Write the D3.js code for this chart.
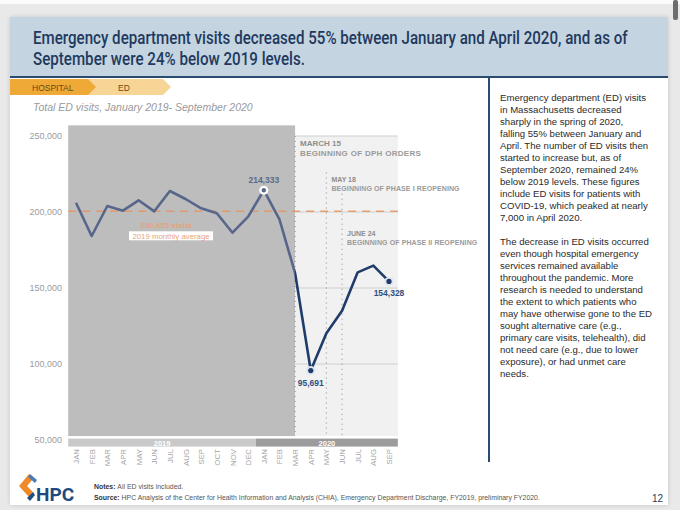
<!DOCTYPE html>
<html><head><meta charset="utf-8">
<script src="https://cdn.jsdelivr.net/npm/d3@7"></script>
<style>
html,body{margin:0;padding:0;background:#e9e9ea;}
svg{display:block;font-family:"Liberation Sans",Arial,sans-serif;}
</style></head><body>
<svg id="c" width="680" height="510"></svg>
<script>
// ---- data ----
const months = ["JAN","FEB","MAR","APR","MAY","JUN","JUL","AUG","SEP","OCT","NOV","DEC",
                "JAN","FEB","MAR","APR","MAY","JUN","JUL","AUG","SEP"];
const visits = [206100,184200,203950,200860,207700,200440,213800,208550,202430,199140,186380,196900,
                214333,195200,159700,95691,120200,135100,160300,164700,154328];
const yTicks = [50000,100000,150000,200000,250000];
const years = ["2019","2020"];
const yearStart = [0,12];
const yearEnd = [11,20];
const avg2019 = 200455;
const avgLabel = ["200,455 visits","2019 monthly average"];
const eventIdx = [14,16,17];
const eventDate = ["MARCH 15","MAY 18","JUNE 24"];
const eventText = ["BEGINNING OF DPH ORDERS","BEGINNING OF PHASE I REOPENING","BEGINNING OF PHASE II REOPENING"];
const callouts = [12,15,20];
const titleLines = ["Emergency department visits decreased 55% between January and April 2020, and as of",
                    "September were 24% below 2019 levels."];
const para1 = ["Emergency department (ED) visits","in Massachusetts decreased","sharply in the spring of 2020,",
  "falling 55% between January and","April. The number of ED visits then","started to increase but, as of",
  "September 2020, remained 24%","below 2019 levels. These figures","include ED visits for patients with",
  "COVID-19, which peaked at nearly","7,000 in April 2020."];
const para2 = ["The decrease in ED visits occurred","even though hospital emergency","services remained available",
  "throughout the pandemic. More","research is needed to understand","the extent to which patients who",
  "may have otherwise gone to the ED","sought alternative care (e.g.,","primary care visits, telehealth), did",
  "not need care (e.g., due to lower","exposure), or had unmet care","needs."];

const svg = d3.select("#c");
const navy = "#1f3a5e";

// page chrome
svg.append("rect").attr("x",0).attr("y",0).attr("width",680).attr("height",4).attr("fill","#fbfbfb");
svg.append("rect").attr("x",673).attr("y",0).attr("width",5).attr("height",20).attr("rx",2).attr("fill","#6d6d6d");
svg.append("rect").attr("x",10).attr("y",17).attr("width",658).attr("height",488).attr("fill","#fff")
   .style("filter","drop-shadow(0 0 2px rgba(0,0,0,0.15))");
svg.append("rect").attr("x",10).attr("y",17).attr("width",658).attr("height",60).attr("fill","#c4d4e0");
svg.append("rect").attr("x",10).attr("y",76).attr("width",658).attr("height",2).attr("fill","#2a4a6e");

// title (condensed by horizontal scaling to fit reference width)
const tw = [595,272];
titleLines.forEach((t,i)=>{
  const g = svg.append("g").attr("transform",`translate(33,${44+i*21})`);
  const tx = g.append("text").attr("x",0).attr("y",0).attr("font-family","Roboto, sans-serif")
    .attr("font-weight",500).attr("font-size",17.5).attr("fill",navy).text(t);
  const w = tx.node().getComputedTextLength();
  tx.attr("transform",`scale(${tw[i]/w},1)`);
});

// tabs
svg.append("polygon").attr("points","88,79 163,79 171,87 163,95 88,95").attr("fill","#f7d596");
svg.append("polygon").attr("points","10,79 88,79 96,87 88,95 10,95").attr("fill","#eea936");
svg.append("text").attr("x",32).attr("y",90.5).attr("font-size",8.5).attr("fill","#6a4a1a").text("HOSPITAL");
svg.append("text").attr("x",118).attr("y",90.5).attr("font-size",8.5).attr("fill","#6a4a1a").text("ED");
svg.append("text").attr("x",33).attr("y",111).attr("font-size",10.5).attr("font-style","italic")
   .attr("fill","#9a9a9a").text("Total ED visits, January 2019- September 2020");

// divider
svg.append("rect").attr("x",488).attr("y",78).attr("width",2).attr("height",384).attr("fill","#2a4a6e");

// scales
const x = d3.scaleLinear().domain([0,months.length-1]).range([76,389]);
const step = x(1)-x(0);
const y = d3.scaleLinear().domain([50000,250000]).range([440,136]);
const left = x(0)-step/2, right = x(20)+step/2+1;
const bottom = y(52600);

// shaded regions
svg.append("rect").attr("x",left).attr("y",y(257000)).attr("width",x(14)-left)
   .attr("height",bottom-y(257000)).attr("fill","#bdbdbd");
svg.append("rect").attr("x",x(14)).attr("y",y(250000)).attr("width",right-x(14))
   .attr("height",bottom-y(250000)).attr("fill","#f1f1f1");
// gridlines in light region
svg.append("g").selectAll("line").data(yTicks.filter(d=>d>50000)).join("line")
  .attr("x1",x(14)).attr("x2",right).attr("y1",d=>y(d)).attr("y2",d=>y(d))
  .attr("stroke","#cfcfcf").attr("stroke-width",1);

// y axis
const yAxis = svg.append("g").attr("transform",`translate(${62},0)`)
  .call(d3.axisLeft(y).tickValues(yTicks).tickSize(0).tickPadding(0).tickFormat(d3.format(",")));
yAxis.select(".domain").remove();
yAxis.selectAll("text").attr("font-size",9).attr("fill","#9b9b9b")
   .attr("font-family","Liberation Sans, Arial, sans-serif");

// year bar
const yb = y(48300);
years.forEach((yr,i)=>{
  const x0 = x(yearStart[i])-step/2, x1 = i===1? right : x(yearEnd[i])+step/2;
  svg.append("rect").attr("x",x0).attr("y",yb-4).attr("width",x1-x0).attr("height",8)
     .attr("fill", i===0? "#c9c9c9":"#9c9c9c");
  svg.append("text").attr("x",(x0+x1)/2).attr("y",yb+3).attr("text-anchor","middle")
     .attr("font-size",7.5).attr("font-weight","bold").attr("fill","#fff").text(yr);
});

// month labels
svg.append("g").selectAll("text").data(months).join("text")
  .attr("transform",(d,i)=>`translate(${x(i)+3},449) rotate(-90)`)
  .attr("text-anchor","end").attr("font-size",7.8).attr("fill","#a5a5a5").text(d=>d);

// event lines
eventIdx.forEach((ix,i)=>{
  const top = [y(250000), y(226000), y(212000)][i];
  svg.append("line").attr("x1",x(ix)).attr("x2",x(ix)).attr("y1",top).attr("y2",bottom)
    .attr("stroke","#9a9a9a").attr("stroke-width",1.2).attr("stroke-dasharray","1,4");
  const ty = [y(243500), y(220000), y(184000)][i];
  const fs = i===0? 8 : 7;
  svg.append("text").attr("x",x(ix)+5).attr("y",ty).attr("font-size",fs).attr("font-weight","bold")
    .attr("fill","#8d8d8d").text(eventDate[i]);
  svg.append("text").attr("x",x(ix)+5).attr("y",ty+(i===0?10:9)).attr("font-size",fs)
    .attr("font-weight","bold").attr("fill","#9a9a9a").attr("letter-spacing",i===0?0.3:0.1).text(eventText[i]);
});

// average dashed line
svg.append("line").attr("x1",left).attr("x2",right).attr("y1",y(avg2019)).attr("y2",y(avg2019))
   .attr("stroke","#e8935e").attr("stroke-width",1.6).attr("stroke-dasharray","8,6").attr("opacity",0.85);
svg.append("text").attr("x",166).attr("y",y(avg2019)+16.5).attr("text-anchor","middle")
   .attr("font-size",8).attr("font-weight","bold").attr("fill","#e3a47c").text(avgLabel[0]);
svg.append("rect").attr("x",129).attr("y",y(avg2019)+20).attr("width",84).attr("height",9).attr("fill","#fff");
svg.append("text").attr("x",171).attr("y",y(avg2019)+27.3).attr("text-anchor","middle")
   .attr("font-size",7.8).attr("fill","#e8a47a").text(avgLabel[1]);

// clip paths
const defs = svg.append("defs");
defs.append("clipPath").attr("id","cl").append("rect").attr("x",0).attr("y",0).attr("width",x(14)).attr("height",510);
defs.append("clipPath").attr("id","cr").append("rect").attr("x",x(14)).attr("y",0).attr("width",300).attr("height",510);

const line = d3.line().x((d,i)=>x(i)).y(d=>y(d));
svg.append("path").datum(visits).attr("d",line).attr("fill","none").attr("stroke","#57668a")
   .attr("stroke-width",2.6).attr("stroke-linejoin","round").attr("clip-path","url(#cl)");
svg.append("path").datum(visits).attr("d",line).attr("fill","none").attr("stroke","#1f3c6a")
   .attr("stroke-width",2.6).attr("stroke-linejoin","round").attr("clip-path","url(#cr)");

// markers & labels
const fmt = d3.format(",");
callouts.forEach((ix,k)=>{
  const cx = x(ix), cy = y(visits[ix]);
  if(k===0){
    svg.append("circle").attr("cx",cx).attr("cy",cy).attr("r",4.5).attr("fill","#fff");
    svg.append("circle").attr("cx",cx).attr("cy",cy).attr("r",2.2).attr("fill","#57668a");
    svg.append("text").attr("x",cx).attr("y",cy-7).attr("text-anchor","middle").attr("font-size",8.5)
      .attr("font-weight","bold").attr("fill","#5b6a8c").text(fmt(visits[ix]));
  } else {
    svg.append("circle").attr("cx",cx).attr("cy",cy).attr("r",4.5).attr("fill","#dfe4ee");
    svg.append("circle").attr("cx",cx).attr("cy",cy).attr("r",2.6).attr("fill","#1f3c6a");
    svg.append("text").attr("x",cx).attr("y",cy+15).attr("text-anchor","middle").attr("font-size",8.5)
      .attr("font-weight","bold").attr("fill","#2f4f7f").text(fmt(visits[ix]));
  }
});

// right text
const rt = svg.append("g").attr("font-size",9.6).attr("fill","#2b2b2b");
para1.forEach((t,i)=>rt.append("text").attr("x",500).attr("y",100.5+i*12.05).text(t));
para2.forEach((t,i)=>rt.append("text").attr("x",500).attr("y",244.5+i*12.05).text(t));

// footer logo
svg.append("polygon").attr("points","29,474 19,486 29,497 33,492 27,486 33,479").attr("fill","#ef8a2a");
svg.append("polygon").attr("points","30,474 37,480 35,483 28,477").attr("fill","#4a7bb6");
svg.append("polygon").attr("points","27,498 33,492 35,495 30,501").attr("fill","#1f4e86");
svg.append("text").attr("x",36).attr("y",501).attr("font-family","Roboto, sans-serif").attr("font-weight",700)
   .attr("font-size",19).attr("fill","#1f4a7e").text("HPC");

// notes / source
const n = svg.append("text").attr("x",94).attr("y",489).attr("font-size",6.9).attr("fill","#555");
n.append("tspan").attr("font-weight","bold").attr("fill","#333").text("Notes: ");
n.append("tspan").text("All ED visits included.");
const s = svg.append("text").attr("x",94).attr("y",500).attr("font-size",6.9).attr("fill","#555");
s.append("tspan").attr("font-weight","bold").attr("fill","#333").text("Source: ");
s.append("tspan").text("HPC Analysis of the Center for Health Information and Analysis (CHIA), Emergency Department Discharge, FY2019, preliminary FY2020.");
svg.append("text").attr("x",652).attr("y",502).attr("font-size",10).attr("fill",navy).text("12");
</script>
</body></html>
